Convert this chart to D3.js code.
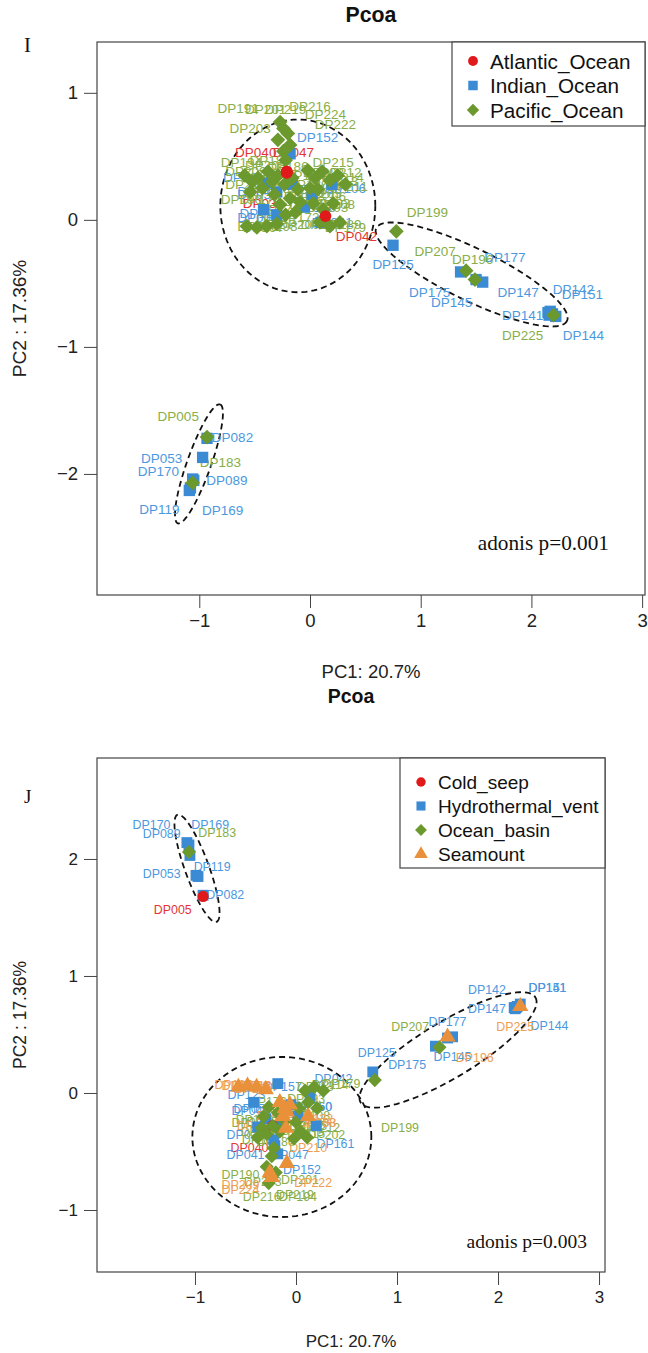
<!DOCTYPE html>
<html><head><meta charset="utf-8">
<script src="https://cdn.jsdelivr.net/npm/d3@7"></script>
<style>body{margin:0;background:#fff}svg{display:block}</style>
</head><body><svg id="c" width="648" height="1353"></svg>
<script>
// ---------------- DATA ----------------
const xTicks = [-1, 0, 1, 2, 3];
const iYTicks = [-2, -1, 0, 1];
const jYTicks = [-1, 0, 1, 2];
const iXlim = [-1.924, 3.026], iYlim = [-2.953, 1.40];
const jXlim = [-1.970, 3.059], jYlim = [-1.53, 2.863];

const iLegend = ["Atlantic_Ocean", "Indian_Ocean", "Pacific_Ocean"];
const jLegend = ["Cold_seep", "Hydrothermal_vent", "Ocean_basin", "Seamount"];

// [label, PC1, PC2, labelPC1, labelPC2]
const iAtlantic = [
  ["DP047", -0.21, 0.38, -0.15, 0.53],
  ["DP040", -0.21, 0.38, -0.49, 0.53],
  ["DP031", -0.21, 0.37, -0.42, 0.13],
  ["DP042", 0.14, 0.03, 0.42, -0.13]
];
const iIndian = [
  ["DP082", -0.93, -1.72, -0.70, -1.71],
  ["DP053", -0.97, -1.87, -1.34, -1.88],
  ["DP170", -1.05, -2.05, -1.37, -1.98],
  ["DP089", -1.06, -2.04, -0.75, -2.05],
  ["DP119", -1.09, -2.13, -1.36, -2.28],
  ["DP169", -1.08, -2.11, -0.79, -2.29],
  ["DP125", 0.75, -0.20, 0.75, -0.35],
  ["DP175", 1.36, -0.41, 1.08, -0.57],
  ["DP177", 1.56, -0.49, 1.76, -0.30],
  ["DP145", 1.50, -0.47, 1.28, -0.65],
  ["DP147", 2.15, -0.73, 1.88, -0.57],
  ["DP142", 2.17, -0.72, 2.38, -0.55],
  ["DP151", 2.19, -0.74, 2.46, -0.59],
  ["DP141", 2.16, -0.75, 1.92, -0.75],
  ["DP144", 2.22, -0.76, 2.47, -0.91],
  ["DP152", -0.18, 0.52, 0.07, 0.65],
  ["DP106", 0.20, 0.28, 0.32, 0.25],
  ["DP057", -0.30, 0.22, -0.47, 0.20],
  ["DP161", -0.38, 0.29, -0.60, 0.33],
  ["DP009", -0.30, 0.04, -0.47, 0.02],
  ["DP041", 0.10, -0.02, 0.20, -0.02],
  ["DP150", 0.02, 0.20, 0.10, 0.24],
  ["DP160", -0.05, 0.10, 0.05, 0.10],
  ["DP123", -0.42, 0.08, -0.45, 0.05],
  ["DP048", -0.16, 0.28, -0.47, 0.22]
];
const iPacific = [
  ["DP005", -0.93, -1.71, -1.19, -1.55],
  ["DP183", -1.06, -2.07, -0.81, -1.91],
  ["DP199", 0.78, -0.09, 1.06, 0.06],
  ["DP207", 1.41, -0.40, 1.13, -0.25],
  ["DP196", 1.49, -0.47, 1.47, -0.31],
  ["DP225", 2.20, -0.75, 1.92, -0.91],
  ["DP191", -0.27, 0.77, -0.65, 0.88],
  ["DP201", -0.24, 0.72, -0.40, 0.87],
  ["DP216", -0.20, 0.68, 0.00, 0.89],
  ["DP203", -0.29, 0.63, -0.54, 0.72],
  ["DP224", -0.18, 0.59, 0.14, 0.83],
  ["DP222", -0.24, 0.54, 0.23, 0.75],
  ["DP219", -0.22, 0.47, -0.22, 0.87],
  ["DP194", -0.59, 0.35, -0.62, 0.45],
  ["DP209", -0.52, 0.30, -0.58, 0.38],
  ["DP208", -0.47, 0.33, -0.40, 0.43],
  ["DP210", -0.43, 0.25, -0.58, 0.28],
  ["DP190", -0.54, 0.22, -0.62, 0.16],
  ["DP188", -0.38, 0.38, -0.36, 0.47],
  ["DP187", -0.34, 0.30, -0.30, 0.36],
  ["DP186", -0.29, 0.35, -0.20, 0.42],
  ["DP185", -0.23, 0.28, -0.30, 0.25],
  ["DP184", -0.16, 0.33, -0.05, 0.35],
  ["DP180", -0.11, 0.24, -0.02, 0.28],
  ["DP178", -0.18, 0.17, -0.05, 0.18],
  ["DP176", -0.27, 0.12, -0.28, 0.08],
  ["DP174", -0.32, 0.20, -0.45, 0.16],
  ["DP173", -0.09, 0.14, 0.00, 0.12],
  ["DP172", -0.13, 0.06, -0.10, 0.02],
  ["DP171", -0.22, 0.04, -0.30, 0.00],
  ["DP215", -0.02, 0.39, 0.21, 0.45],
  ["DP202", 0.045, 0.33, 0.12, 0.37],
  ["DP212", 0.11, 0.38, 0.28, 0.37],
  ["DP213", 0.18, 0.31, 0.25, 0.30],
  ["DP214", 0.25, 0.35, 0.30, 0.33],
  ["DP211", 0.32, 0.28, 0.34, 0.26],
  ["DP205", 0.00, 0.25, 0.10, 0.21],
  ["DP206", 0.07, 0.24, 0.14, 0.18],
  ["DP193", 0.03, 0.13, 0.18, 0.13],
  ["DP108", 0.12, 0.08, 0.22, 0.12],
  ["DP103", 0.21, 0.13, 0.16, 0.10],
  ["DP179", 0.27, -0.02, 0.32, -0.06],
  ["DP181", 0.09, -0.02, 0.10, -0.04],
  ["DP189", 0.18, -0.05, 0.28, -0.04],
  ["DP195", -0.57, -0.05, -0.47, -0.05],
  ["DP197", -0.48, -0.06, -0.42, -0.06],
  ["DP198", -0.39, -0.05, -0.30, -0.05],
  ["DP200", -0.30, -0.03, -0.10, -0.04]
];

const jColdSeep = [
  ["DP005", -0.92, 1.68, -1.22, 1.56],
  ["DP040", -0.23, -0.28, -0.46, -0.47]
];
const jHydrothermal = [
  ["DP170", -1.08, 2.14, -1.43, 2.29],
  ["DP169", -1.06, 2.12, -0.85, 2.29],
  ["DP089", -1.05, 2.03, -1.33, 2.21],
  ["DP119", -0.99, 1.86, -0.83, 1.93],
  ["DP053", -0.97, 1.85, -1.33, 1.87],
  ["DP082", -0.92, 1.69, -0.70, 1.69],
  ["DP125", 0.76, 0.18, 0.80, 0.34],
  ["DP175", 1.38, 0.40, 1.10, 0.24],
  ["DP177", 1.55, 0.48, 1.50, 0.61],
  ["DP145", 1.50, 0.47, 1.55, 0.31],
  ["DP147", 2.16, 0.73, 1.89, 0.72],
  ["DP142", 2.17, 0.72, 1.89, 0.88],
  ["DP151", 2.19, 0.74, 2.49, 0.90],
  ["DP141", 2.18, 0.73, 2.49, 0.90],
  ["DP144", 2.22, 0.76, 2.51, 0.57],
  ["DP157", -0.18, 0.08, -0.13, 0.05],
  ["DP042", 0.14, -0.03, 0.37, 0.12],
  ["DP123", -0.42, -0.08, -0.49, -0.02],
  ["DP058", -0.30, -0.22, -0.43, -0.14],
  ["DP048", -0.16, -0.28, -0.45, -0.15],
  ["DP150", 0.02, -0.20, 0.17, -0.12],
  ["DP160", -0.05, -0.10, 0.17, -0.12],
  ["DP031", -0.38, -0.29, -0.50, -0.36],
  ["DP161", 0.20, -0.28, 0.39, -0.44],
  ["DP041", -0.22, -0.40, -0.50, -0.53],
  ["DP047", -0.21, -0.45, -0.06, -0.53],
  ["DP152", -0.18, -0.52, 0.06, -0.66]
];
const jOceanBasin = [
  ["DP183", -1.06, 2.06, -0.78, 2.22],
  ["DP199", 0.78, 0.11, 1.03, -0.30],
  ["DP207", 1.42, 0.39, 1.13, 0.56],
  ["DP113", 0.09, 0.02, 0.19, 0.05],
  ["DP114", 0.18, 0.05, 0.34, 0.07],
  ["DP179", 0.27, 0.02, 0.45, 0.08],
  ["DP193", 0.03, -0.13, 0.10, -0.05],
  ["DP108", 0.12, -0.08, 0.15, -0.20],
  ["DP103", 0.21, -0.13, -0.41, -0.23],
  ["DP202", 0.045, -0.33, 0.30, -0.36],
  ["DP212", 0.11, -0.38, 0.25, -0.30],
  ["DP215", -0.02, -0.39, 0.10, -0.35],
  ["DP205", 0.00, -0.25, 0.12, -0.28],
  ["DP185", -0.23, -0.28, -0.30, -0.25],
  ["DP184", -0.16, -0.33, -0.05, -0.35],
  ["DP180", -0.11, -0.24, -0.02, -0.28],
  ["DP178", -0.18, -0.17, -0.05, -0.18],
  ["DP176", -0.27, -0.12, -0.28, -0.08],
  ["DP174", -0.32, -0.20, -0.45, -0.26],
  ["DP187", -0.34, -0.30, -0.35, -0.40],
  ["DP186", -0.29, -0.35, -0.20, -0.42],
  ["DP188", -0.38, -0.38, -0.36, -0.33],
  ["DP194", -0.22, -0.47, 0.02, -0.89],
  ["DP190", -0.27, -0.77, -0.55, -0.70],
  ["DP203", -0.29, -0.63, -0.33, -0.76],
  ["DP201", -0.24, -0.72, 0.04, -0.74],
  ["DP216", -0.20, -0.68, -0.34, -0.89],
  ["DP219", -0.24, -0.54, -0.01, -0.87]
];
const jSeamount = [
  ["DP136", -0.57, 0.05, -0.55, 0.06],
  ["DP138", -0.48, 0.06, -0.45, 0.06],
  ["DP139", -0.39, 0.05, -0.36, 0.06],
  ["DP135", -0.30, 0.03, -0.62, 0.07],
  ["DP130", -0.11, -0.13, -0.40, -0.28],
  ["DP131", -0.16, -0.08, -0.42, 0.03],
  ["DP132", -0.06, -0.10, 0.18, -0.22],
  ["DP133", -0.13, -0.20, 0.21, -0.26],
  ["DP134", -0.09, -0.16, -0.20, -0.20],
  ["DP210", -0.10, -0.30, 0.12, -0.47],
  ["DP208", 0.12, -0.20, 0.21, -0.26],
  ["DP209", -0.26, -0.68, -0.55, -0.79],
  ["DP222", -0.09, -0.60, 0.17, -0.77],
  ["DP224", -0.24, -0.72, -0.55, -0.83],
  ["DP196", 1.50, 0.48, 1.77, 0.30],
  ["DP225", 2.22, 0.74, 2.17, 0.56]
];

// ellipses: [centre PC1, centre PC2, major-axis vector (PC1, PC2), minor-axis vector (PC1, PC2)]
const iEllipses = [
  [-0.11, 0.11, 0.70, 0.0, 0.0, 0.68],
  [1.46, -0.43, 0.861, -0.366, -0.103, -0.184],
  [-1.003, -1.921, 0.191, 0.468, 0.102, -0.0315]
];
const jEllipses = [
  [-0.98, 1.92, 0.193, -0.458, 0.112, 0.035],
  [1.505, 0.368, 0.865, 0.449, 0.143, -0.205],
  [-0.14, -0.376, 0.886, 0.0, 0.0, 0.684]
];

const iAdonis = "adonis p=0.001";
const jAdonis = "adonis p=0.003";

// ---------------- STYLE ----------------
const COL = {red: "#E0191B", blue: "#3A8AD4", green: "#6B992E", orange: "#E8903A"};
const LCOL = {red: "#E23535", blue: "#4C98DE", green: "#88AE48", orange: "#EC9E55"};
const FONT = "'Liberation Sans', Arial, sans-serif";
const SERIF = "'Liberation Serif', 'Times New Roman', serif";

const svg = d3.select("#c");

const shapes = {
  circle: {type: d3.symbolCircle, size: 100, rot: 0},
  square: {type: d3.symbolSquare, size: 118, rot: 0},
  diamond: {type: d3.symbolSquare, size: 100, rot: 45},
  triangle: {type: d3.symbolTriangle, size: 115, rot: 0}
};

const minus = d => d < 0 ? "\u2212" + Math.abs(d) : d;

function panel(cfg) {
  const f = cfg.fs;
  const g = svg.append("g");
  const x = d3.scaleLinear().domain(cfg.xlim).range([cfg.left, cfg.right]);
  const y = d3.scaleLinear().domain(cfg.ylim).range([cfg.bottom, cfg.top]);

  g.append("text").attr("x", (cfg.left + cfg.right) / 2).attr("y", cfg.titleY)
    .attr("text-anchor", "middle").attr("font-family", FONT).attr("font-weight", "bold")
    .attr("font-size", 19.5 * f).attr("fill", "#111").text("Pcoa");
  g.append("text").attr("x", 24).attr("y", cfg.letterY).attr("font-family", SERIF)
    .attr("font-size", 19 * f).attr("fill", "#111").text(cfg.letter);

  const xa = g.append("g").attr("transform", `translate(0,${cfg.bottom})`)
    .call(d3.axisBottom(x).tickValues(xTicks).tickSize(13).tickPadding(6).tickFormat(minus));
  const ya = g.append("g").attr("transform", `translate(${cfg.left},0)`)
    .call(d3.axisLeft(y).tickValues(cfg.yTicks).tickSize(13).tickPadding(6).tickFormat(minus));
  [xa, ya].forEach(a => {
    a.select(".domain").remove();
    a.selectAll("line").attr("stroke", "#444");
    a.selectAll("text").attr("font-family", FONT).attr("font-size", 17 * f).attr("fill", "#222");
  });
  g.append("text").attr("x", (cfg.left + cfg.right) / 2).attr("y", cfg.xTitleY)
    .attr("text-anchor", "middle").attr("font-family", FONT).attr("font-size", 17 * f)
    .attr("fill", "#222").text("PC1: 20.7%");
  g.append("text").attr("transform", `translate(${cfg.yTitleX},${(cfg.top + cfg.bottom) / 2}) rotate(-90)`)
    .attr("text-anchor", "middle").attr("font-family", FONT).attr("font-size", 17.5 * f)
    .attr("fill", "#222").text("PC2 : 17.36%");

  g.append("rect").attr("x", cfg.left).attr("y", cfg.top)
    .attr("width", cfg.right - cfg.left).attr("height", cfg.bottom - cfg.top)
    .attr("fill", "none").attr("stroke", "#444").attr("stroke-width", 1.2);

  const line = d3.line().x(d => x(d[0])).y(d => y(d[1]));
  cfg.ellipses.forEach(e => {
    const pts = d3.range(0, 361, 3).map(a => {
      const t = a * Math.PI / 180;
      return [e[0] + e[2] * Math.cos(t) + e[4] * Math.sin(t),
              e[1] + e[3] * Math.cos(t) + e[5] * Math.sin(t)];
    });
    g.append("path").attr("d", line(pts)).attr("fill", "none")
      .attr("stroke", "#111").attr("stroke-width", 1.8).attr("stroke-dasharray", "6,4");
  });

  cfg.groups.forEach(gr => {
    g.append("g").selectAll("text").data(gr.data).join("text")
      .attr("x", d => x(d[3])).attr("y", d => y(d[4]))
      .attr("text-anchor", "middle").attr("dominant-baseline", "central")
      .attr("font-family", FONT).attr("font-size", 12.4 * f).attr("fill", LCOL[gr.color])
      .text(d => d[0]);
  });
  cfg.drawOrder.forEach(idx => {
    const gr = cfg.groups[idx];
    const s = shapes[gr.shape];
    g.append("g").selectAll("path").data(gr.data).join("path")
      .attr("d", d3.symbol().type(s.type).size(s.size * f))
      .attr("transform", d => `translate(${x(d[1])},${y(d[2])}) rotate(${s.rot})`)
      .attr("fill", COL[gr.color]);
  });

  g.append("text").attr("x", cfg.adonisX).attr("y", cfg.adonisY).attr("text-anchor", "end")
    .attr("font-family", SERIF).attr("font-size", 19.5 * f).attr("fill", "#111").text(cfg.adonis);

  const lg = g.append("g");
  lg.append("rect").attr("x", cfg.legX).attr("y", cfg.top).attr("width", cfg.right - cfg.legX)
    .attr("height", cfg.legH).attr("fill", "#fff").attr("stroke", "#444").attr("stroke-width", 1.2);
  cfg.legend.forEach((name, i) => {
    const gr = cfg.groups[i];
    const s = shapes[gr.shape];
    const yy = cfg.top + cfg.legY0 + i * cfg.legDy;
    lg.append("path").attr("d", d3.symbol().type(s.type).size(s.size * 0.7 * f))
      .attr("transform", `translate(${cfg.legX + 21},${yy}) rotate(${s.rot})`)
      .attr("fill", COL[gr.color]);
    lg.append("text").attr("x", cfg.legX + 38).attr("y", yy).attr("dominant-baseline", "central")
      .attr("font-family", FONT).attr("font-size", 19 * f).attr("fill", "#111").text(name);
  });
}

panel({
  fs: 1.09, letter: "I", letterY: 52, titleY: 22, left: 97, right: 645, top: 42, bottom: 595,
  xlim: iXlim, ylim: iYlim, yTicks: iYTicks, xTitleY: 678, yTitleX: 26,
  ellipses: iEllipses, adonis: iAdonis, adonisX: 609, adonisY: 550,
  legend: iLegend, legX: 452, legH: 84, legY0: 19, legDy: 24.5,
  groups: [
    {data: iAtlantic, color: "red", shape: "circle"},
    {data: iIndian, color: "blue", shape: "square"},
    {data: iPacific, color: "green", shape: "diamond"}
  ],
  drawOrder: [1, 2, 0]
});

panel({
  fs: 1.0, letter: "J", letterY: 803, titleY: 703, left: 97, right: 605, top: 758, bottom: 1272,
  xlim: jXlim, ylim: jYlim, yTicks: jYTicks, xTitleY: 1347, yTitleX: 26,
  ellipses: jEllipses, adonis: jAdonis, adonisX: 587, adonisY: 1248,
  legend: jLegend, legX: 400, legH: 110, legY0: 24, legDy: 24,
  groups: [
    {data: jColdSeep, color: "red", shape: "circle"},
    {data: jHydrothermal, color: "blue", shape: "square"},
    {data: jOceanBasin, color: "green", shape: "diamond"},
    {data: jSeamount, color: "orange", shape: "triangle"}
  ],
  drawOrder: [1, 0, 2, 3]
});
</script></body></html>
